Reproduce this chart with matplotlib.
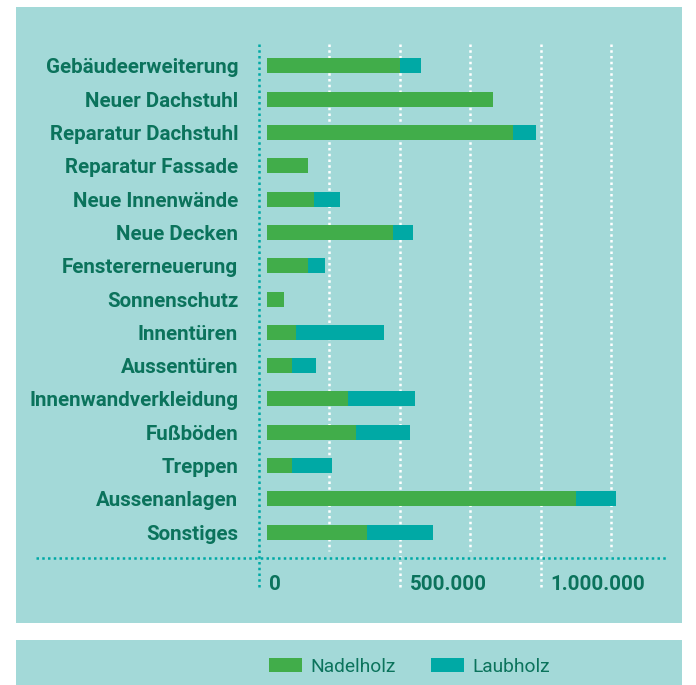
import matplotlib.pyplot as plt
from matplotlib.patches import Rectangle

categories = [
    "Gebäudeerweiterung", "Neuer Dachstuhl", "Reparatur Dachstuhl",
    "Reparatur Fassade", "Neue Innenwände", "Neue Decken",
    "Fenstererneuerung", "Sonnenschutz", "Innentüren", "Aussentüren",
    "Innenwandverkleidung", "Fußböden", "Treppen", "Aussenanlagen",
    "Sonstiges",
]
nadelholz = [471000, 801000, 874000, 145000, 169000, 446000, 146000, 60000,
             103000, 89000, 288000, 316000, 89000, 1096000, 354000]
laubholz = [76000, 0, 81000, 0, 89000, 71000, 59000, 0,
            311000, 87000, 238000, 192000, 141000, 142000, 234000]
major_ticks = [0, 500000, 1000000]
major_labels = ["0", "500.000", "1.000.000"]
minor_ticks = [250000, 750000, 1250000]

BG = "#a3d9d8"
GREEN = "#41ad4a"
TEAL = "#00a9a5"
TEXT = "#0b735c"
FONT = "Roboto"

W, H = 696, 685


def fx(px):
    return px / W


def fy(py):
    return 1 - py / H


fig = plt.figure(figsize=(W / 100, H / 100), dpi=100, facecolor="white")

# panels
fig.patches.append(Rectangle((fx(16), fy(623)), fx(682) - fx(16), fy(7) - fy(623),
                             transform=fig.transFigure, facecolor=BG, edgecolor="none", zorder=-10))
fig.patches.append(Rectangle((fx(16), fy(H)), fx(682) - fx(16), fy(640) - fy(H),
                             transform=fig.transFigure, facecolor=BG, edgecolor="none", zorder=-10))

ax = fig.add_axes([fx(259), fy(590), fx(668) - fx(259), fy(44) - fy(590)])
ax.patch.set_alpha(0)
for s in ax.spines.values():
    s.set_visible(False)

XMAX = 1452000
BAR_START = 28000  # bars sit slightly off the zero line
ax.set_xlim(0, XMAX)
n = len(categories)
ax.set_ylim(15.74, -0.66)
ypos = list(range(n))

dots = (0, (1, 1.3))

# white dotted gridlines
ax.vlines(major_ticks[1:], -0.66, 15.74, colors="white", linewidth=1.8,
          linestyles=[dots], zorder=1)
ax.vlines(minor_ticks, -0.66, 14.56, colors="white", linewidth=1.8,
          linestyles=[dots], zorder=1)

# teal axis lines
ax.vlines([0], -0.66, 15.74, colors=TEAL, linewidth=1.8, linestyles=[dots],
          zorder=2, clip_on=False)
ax.plot([-0.545, 1.0], [14.77, 14.77], transform=ax.get_yaxis_transform(),
        color=TEAL, linewidth=1.8, linestyle=dots, clip_on=False, zorder=2)

b1 = ax.barh(ypos, nadelholz, left=BAR_START, height=0.45, color=GREEN,
             label="Nadelholz", zorder=3)
b2 = ax.barh(ypos, laubholz, left=[BAR_START + v for v in nadelholz], height=0.45,
             color=TEAL, label="Laubholz", zorder=3)

ax.set_yticks(ypos)
ax.set_yticklabels(categories, fontfamily=FONT, fontweight="bold",
                   fontsize=14.8, color=TEXT)
ax.tick_params(axis="y", length=0, pad=15)
ax.set_xticks([])

for v, lab in zip(major_ticks, major_labels):
    ax.annotate(lab, xy=(v, 15.56), xycoords="data", xytext=(10, 0),
                textcoords="offset pixels", ha="left", va="center",
                fontfamily=FONT, fontweight="bold", fontsize=14.8,
                color=TEXT, annotation_clip=False)

fig.legend(handles=[b1, b2], loc="center", ncol=2, frameon=False,
           bbox_to_anchor=(fx(409.5), fy(666.5)),
           prop={"family": FONT, "size": 13.8}, labelcolor=TEXT,
           handlelength=1.74, handleheight=0.79, handletextpad=0.42,
           columnspacing=1.84)

fig.savefig("out.png", dpi=100, facecolor="white")
